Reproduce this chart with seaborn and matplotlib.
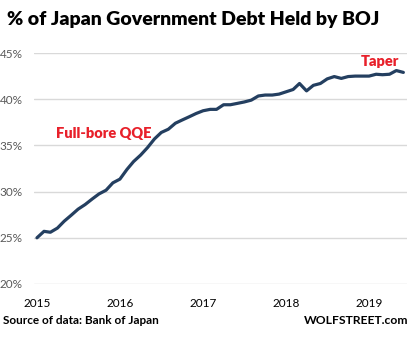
import matplotlib
matplotlib.use("Agg")
import matplotlib.pyplot as plt
import numpy as np
import pandas as pd
import seaborn as sns

# Monthly share of Japanese government debt held by the Bank of Japan (%)
months = pd.date_range("2015-01-01", "2019-06-01", freq="MS")
share_pct = [
    25.0, 25.7, 25.6, 26.05, 26.8, 27.45, 28.1, 28.6, 29.2, 29.75, 30.15, 30.95,
    31.35, 32.4, 33.25, 33.95, 34.75, 35.7, 36.4, 36.75, 37.4, 37.75, 38.1, 38.45,
    38.75, 38.9, 38.9, 39.4, 39.4, 39.55, 39.7, 39.9, 40.35, 40.45, 40.45, 40.55,
    40.8, 41.05, 41.7, 40.9, 41.5, 41.7, 42.2, 42.45, 42.25, 42.45, 42.5, 42.5,
    42.5, 42.7, 42.65, 42.7, 43.1, 42.9,
]
year_ticks = ["2015", "2016", "2017", "2018", "2019"]
y_ticks = [20, 25, 30, 35, 40, 45]

df = pd.DataFrame({"month": months, "share": share_pct})

sns.set_theme(style="white")
plt.rcParams["font.family"] = ["Lato", "DejaVu Sans"]

W, H = 412, 337
fig = plt.figure(figsize=(W / 100, H / 100), dpi=100)
ax = fig.add_axes([34 / W, 53 / H, (407 - 34) / W, (284 - 53) / H])

sns.lineplot(data=df, x="month", y="share", ax=ax, color="#243f60",
             linewidth=2.3, zorder=3)

ax.set_ylim(20, 45)
ax.set_yticks(y_ticks)
ax.set_yticklabels([f"{v}%" for v in y_ticks], color="#595959", fontsize=8.5)
ax.yaxis.grid(True, color="#d9d9d9", linewidth=1.0)
ax.xaxis.grid(False)

ax.set_xlim(pd.Timestamp("2014-12-19"), pd.Timestamp("2019-06-17"))
ax.set_xticks([pd.Timestamp(f"{y}-01-01") for y in year_ticks])
ax.set_xticklabels(year_ticks, color="black", fontsize=8.5)
ax.tick_params(axis="both", length=0)
ax.tick_params(axis="x", pad=10)
ax.tick_params(axis="y", pad=8)
ax.set_xlabel("")
ax.set_ylabel("")
for s in ax.spines.values():
    s.set_visible(False)

red = "#e8202a"
fig.text(7 / W, 1 - 20 / H, "% of Japan Government Debt Held by BOJ",
         fontsize=14, fontweight="heavy", color="black", va="center", ha="left")
fig.text(56 / W, 1 - 133 / H, "Full-bore QQE", fontsize=10.5, fontweight="heavy",
         color=red, va="center", ha="left")
fig.text(361 / W, 1 - 61 / H, "Taper", fontsize=10.5, fontweight="heavy",
         color=red, va="center", ha="left")
fig.text(3 / W, 1 - 320 / H, "Source of data: Bank of Japan", fontsize=8.5,
         fontweight="bold", color="black", va="center", ha="left")
fig.text(408 / W, 1 - 320 / H, "WOLFSTREET.com", fontsize=8.7,
         fontweight="bold", color="black", va="center", ha="right")

fig.savefig("out.png", dpi=100)
